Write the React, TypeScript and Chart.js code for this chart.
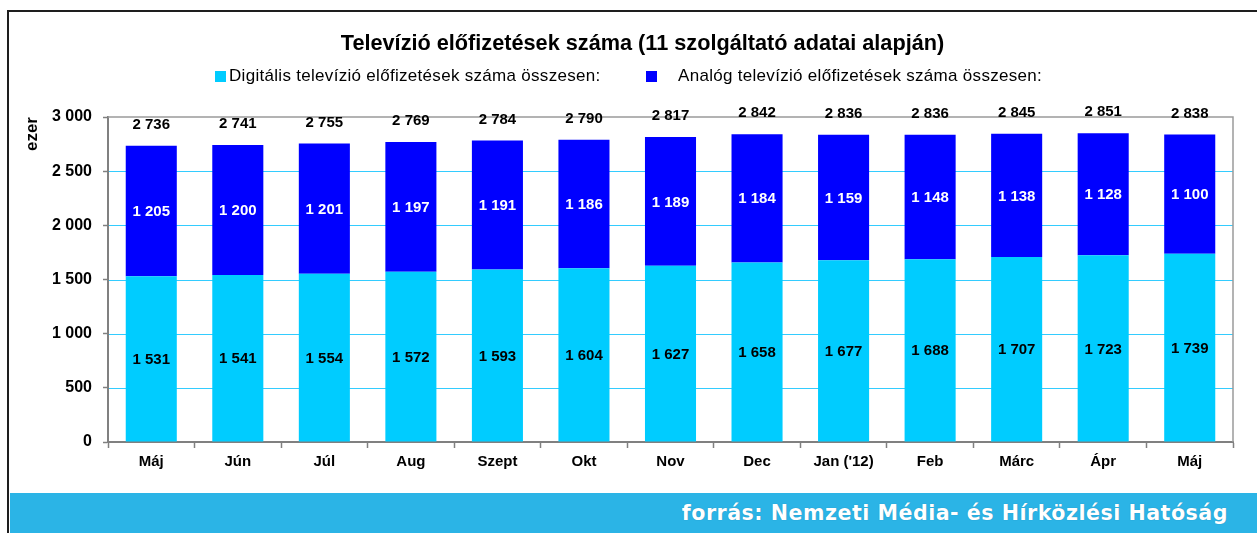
import React, { useEffect, useRef } from 'react';
import { Chart, registerables } from 'chart.js';

Chart.register(...registerables);

const months = ['Máj', 'Jún', 'Júl', 'Aug', 'Szept', 'Okt', 'Nov', 'Dec', "Jan ('12)", 'Feb', 'Márc', 'Ápr', 'Máj'];
const digital = [1531, 1541, 1554, 1572, 1593, 1604, 1627, 1658, 1677, 1688, 1707, 1723, 1739];
const analog = [1205, 1200, 1201, 1197, 1191, 1186, 1189, 1184, 1159, 1148, 1138, 1128, 1100];
const totals = [2736, 2741, 2755, 2769, 2784, 2790, 2817, 2842, 2836, 2836, 2845, 2851, 2838];
const seriesNames = [
  'Digitális televízió előfizetések száma összesen:',
  'Analóg televízió előfizetések száma összesen:',
];
const seriesColors = ['#00CCFF', '#0000FF'];
const titleText = 'Televízió előfizetések száma (11 szolgáltató adatai alapján)';
const yAxisTitle = 'ezer';
const sourceText = 'forrás: Nemzeti Média- és Hírközlési Hatóság';
const yMin = 0;
const yMax = 3000;
const yStep = 500;

const FONT = '"Liberation Sans", Arial, sans-serif';
const GRID_COLOR = '#33CCFF';
const fmt = (v: number) => String(v).replace(/\B(?=(\d{3})+(?!\d))/g, ' ');

const labelPlugin = {
  id: 'barLabels',
  beforeDatasetsDraw(chart: any) {
    const { ctx, chartArea } = chart;
    const yScale = chart.scales.y;
    ctx.save();
    // cyan gridlines
    ctx.strokeStyle = GRID_COLOR;
    ctx.lineWidth = 1;
    yScale.ticks.forEach((t: any) => {
      if (t.value === yMin || t.value === yMax) return;
      const py = Math.round(yScale.getPixelForValue(t.value)) + 0.5;
      ctx.beginPath();
      ctx.moveTo(chartArea.left + 1, py);
      ctx.lineTo(chartArea.right, py);
      ctx.stroke();
    });
    // plot border (top and right)
    ctx.strokeStyle = '#9a9a9a';
    ctx.lineWidth = 1.5;
    ctx.beginPath();
    ctx.moveTo(chartArea.left, chartArea.top);
    ctx.lineTo(chartArea.right, chartArea.top);
    ctx.lineTo(chartArea.right, chartArea.bottom);
    ctx.stroke();
    ctx.restore();
  },
  afterDatasetsDraw(chart: any) {
    const { ctx } = chart;
    const m0 = chart.getDatasetMeta(0);
    const m1 = chart.getDatasetMeta(1);
    ctx.save();
    ctx.textAlign = 'center';
    ctx.textBaseline = 'middle';
    ctx.font = `bold 15px ${FONT}`;
    m0.data.forEach((bar: any, i: number) => {
      const { x, y, base } = bar.getProps(['x', 'y', 'base'], true);
      ctx.fillStyle = '#000000';
      ctx.fillText(fmt(digital[i]), x, (y + base) / 2 + 1);
    });
    m1.data.forEach((bar: any, i: number) => {
      const { x, y, base } = bar.getProps(['x', 'y', 'base'], true);
      ctx.fillStyle = '#FFFFFF';
      ctx.fillText(fmt(analog[i]), x, (y + base) / 2 + 1);
      ctx.fillStyle = '#000000';
      ctx.fillText(fmt(totals[i]), x, y - 21);
    });
    ctx.restore();
  },
};

export default function App() {
  const canvasRef = useRef<HTMLCanvasElement | null>(null);

  useEffect(() => {
    const canvas = canvasRef.current;
    if (!canvas) return;
    Chart.defaults.font.family = FONT;
    const chart = new Chart(canvas, {
      type: 'bar',
      data: {
        labels: months,
        datasets: [
          {
            label: seriesNames[0],
            data: digital,
            backgroundColor: seriesColors[0],
            borderWidth: 0,
            barPercentage: 0.59,
            categoryPercentage: 1,
          },
          {
            label: seriesNames[1],
            data: analog,
            backgroundColor: seriesColors[1],
            borderWidth: 0,
            barPercentage: 0.59,
            categoryPercentage: 1,
          },
        ],
      },
      options: {
        animation: false,
        responsive: false,
        devicePixelRatio: 1,
        layout: { padding: { left: 52, right: 24, top: 0, bottom: 40 } },
        plugins: {
          legend: { display: false },
          tooltip: { enabled: false },
          title: {
            display: true,
            text: titleText,
            color: '#000000',
            font: { family: FONT, size: 21.7, weight: 'bold' },
            padding: { top: 31, bottom: 60 },
          },
        },
        scales: {
          x: {
            stacked: true,
            afterFit: (scale: any) => {
              scale.height = 51;
            },
            grid: {
              display: true,
              drawOnChartArea: false,
              offset: true,
              tickLength: 6,
              tickColor: '#808080',
              tickWidth: 1.5,
            },
            border: { color: '#808080', width: 2 },
            ticks: {
              color: '#000000',
              font: { family: FONT, size: 15, weight: 'bold' },
              padding: 5,
              maxRotation: 0,
              autoSkip: false,
            },
          },
          y: {
            stacked: true,
            min: yMin,
            max: yMax,
            afterFit: (scale: any) => {
              scale.width = 56;
            },
            grid: {
              display: true,
              drawOnChartArea: false,
              tickLength: 5,
              tickColor: '#808080',
              tickWidth: 1.5,
            },
            border: { color: '#808080', width: 2 },
            ticks: {
              stepSize: yStep,
              color: '#000000',
              font: { family: FONT, size: 16, weight: 'bold' },
              padding: 11,
              callback: (v: any) => fmt(Number(v)),
            },
            title: {
              display: true,
              text: yAxisTitle,
              align: 'end',
              color: '#000000',
              font: { family: FONT, size: 17, weight: 'bold' },
              padding: { top: -30.2, bottom: 0 },
            },
          },
        },
      },
      plugins: [labelPlugin],
    } as any);
    return () => chart.destroy();
  }, []);

  const legendItems = [
    { box: 215, text: 229 },
    { box: 646, text: 678 },
  ];

  return (
    <div
      style={{
        position: 'fixed',
        left: 0,
        top: 0,
        width: 1257,
        height: 533,
        overflow: 'hidden',
        background: '#FFFFFF',
        fontFamily: FONT,
      }}
    >
      <div
        style={{
          position: 'absolute',
          left: 7,
          top: 10,
          width: 1300,
          height: 600,
          borderLeft: '2px solid #1e1e1e',
          borderTop: '2px solid #1e1e1e',
        }}
      />
      <div
        style={{
          position: 'absolute',
          left: 10,
          top: 493,
          width: 1247,
          height: 40,
          background: '#2BB4E6',
        }}
      />
      <div
        style={{
          position: 'absolute',
          right: 29,
          top: 493,
          height: 40,
          lineHeight: '40px',
          color: '#FFFFFF',
          fontFamily: '"DejaVu Sans", Verdana, sans-serif',
          fontWeight: 'bold',
          fontSize: 20.6,
          letterSpacing: '0.5px',
          whiteSpace: 'nowrap',
          textShadow: '0 0 1px rgba(0,60,100,0.4)',
        }}
      >
        {sourceText}
      </div>
      <canvas
        ref={canvasRef}
        width={1257}
        height={533}
        style={{ position: 'absolute', left: 0, top: 0, width: 1257, height: 533 }}
      />
      {seriesNames.map((name, i) => (
        <React.Fragment key={name}>
          <div
            style={{
              position: 'absolute',
              left: legendItems[i].box,
              top: 71,
              width: 11,
              height: 11,
              background: seriesColors[i],
            }}
          />
          <div
            style={{
              position: 'absolute',
              left: legendItems[i].text,
              top: 66,
              height: 20,
              lineHeight: '20px',
              fontSize: 17,
              letterSpacing: '0.3px',
              color: '#000000',
              whiteSpace: 'nowrap',
            }}
          >
            {name}
          </div>
        </React.Fragment>
      ))}
    </div>
  );
}
